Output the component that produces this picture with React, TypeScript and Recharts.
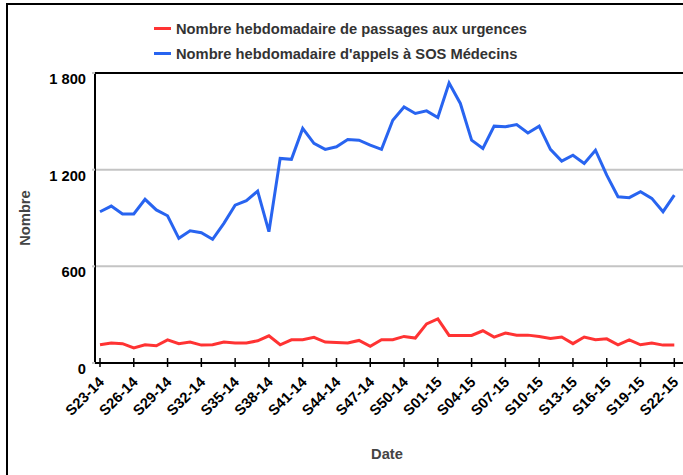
import { LineChart, Line, XAxis, YAxis, CartesianGrid, ReferenceLine } from 'recharts';

const weeks = [
  'S23-14', 'S24-14', 'S25-14', 'S26-14', 'S27-14', 'S28-14', 'S29-14', 'S30-14', 'S31-14', 'S32-14',
  'S33-14', 'S34-14', 'S35-14', 'S36-14', 'S37-14', 'S38-14', 'S39-14', 'S40-14', 'S41-14', 'S42-14',
  'S43-14', 'S44-14', 'S45-14', 'S46-14', 'S47-14', 'S48-14', 'S49-14', 'S50-14', 'S51-14', 'S52-14',
  'S01-15', 'S02-15', 'S03-15', 'S04-15', 'S05-15', 'S06-15', 'S07-15', 'S08-15', 'S09-15', 'S10-15',
  'S11-15', 'S12-15', 'S13-15', 'S14-15', 'S15-15', 'S16-15', 'S17-15', 'S18-15', 'S19-15', 'S20-15',
  'S21-15', 'S22-15',
];

const urgences = [
  113, 124, 120, 93, 113, 107, 144, 120, 130, 111,
  113, 130, 124, 124, 138, 169, 113, 144, 144, 159,
  130, 128, 124, 140, 103, 144, 144, 165, 155, 243,
  274, 171, 171, 171, 200, 161, 186, 173, 173, 165,
  152, 161, 120, 161, 144, 150, 113, 144, 113, 124,
  111, 111,
];

const sosMedecins = [
  939, 974, 925, 925, 1016, 950, 914, 774, 821, 809,
  768, 867, 980, 1007, 1067, 815, 1270, 1264, 1456, 1363,
  1326, 1342, 1387, 1383, 1352, 1326, 1507, 1589, 1549, 1565,
  1524, 1738, 1611, 1383, 1332, 1470, 1466, 1480, 1428, 1470,
  1326, 1253, 1290, 1239, 1321, 1166, 1032, 1026, 1063, 1022,
  939, 1042,
];

const yTicks = [0, 600, 1200, 1800];

const seriesNames = [
  'Nombre hebdomadaire de passages aux urgences',
  "Nombre hebdomadaire d'appels à SOS Médecins",
];
const RED = '#ff3333';
const BLUE = '#2864f0';

const data = weeks.map((week, i) => ({ week, urgences: urgences[i], sos: sosMedecins[i] }));

const FONT = '"Liberation Sans", Arial, sans-serif';
const fmt = (v: number) => (v >= 1000 ? `${Math.floor(v / 1000)} ${String(v % 1000).padStart(3, '0')}` : String(v));

function YTick({ x, y, payload }: any) {
  return (
    <text x={x} y={y} dy={11} textAnchor="end" fontFamily={FONT} fontSize={14.7} fontWeight="bold" fill="#000">
      {fmt(payload.value)}
    </text>
  );
}

function XTick({ x, y, payload }: any) {
  const ax = x + 5;
  const ay = y + 20;
  return (
    <g>
      <line x1={x} x2={x} y1={y - 5} y2={y + 4} stroke="#000" strokeWidth={1.5} />
      <text x={ax} y={ay} transform={`rotate(-45, ${ax}, ${ay})`} textAnchor="end" fontFamily={FONT} fontSize={14.7} fontWeight="bold" fill="#000">
        {payload.value}
      </text>
    </g>
  );
}

export default function App() {
  return (
    <div style={{ position: 'absolute', left: 0, top: 0, width: 683, height: 475, overflow: 'hidden', background: '#fff' }}>
      <div style={{ position: 'absolute', left: 6, top: 3, width: 720, height: 520, border: '2px solid #000' }} />
      <div style={{ position: 'absolute', left: 154, top: 16, fontFamily: FONT, fontSize: 14.7, fontWeight: 'bold', color: '#333' }}>
        {seriesNames.map((name, i) => (
          <div key={name} style={{ display: 'flex', alignItems: 'center', height: 25 }}>
            <span style={{ display: 'inline-block', width: 17, height: 3, background: i === 0 ? RED : BLUE, marginRight: 5 }} />
            {name}
          </div>
        ))}
      </div>
      <div style={{ position: 'absolute', left: 0, top: 0 }}>
        <LineChart width={700} height={475} data={data} margin={{ top: 73, right: 15, left: 10, bottom: 12 }}>
          <CartesianGrid vertical={false} stroke="#c4c4c4" strokeWidth={2} />
          <ReferenceLine y={1800} stroke="#000" strokeWidth={2} />
          <XAxis
            dataKey="week"
            interval={2}
            height={100}
            padding={{ left: 5, right: 10.7 }}
            tickSize={0}
            tickMargin={0}
            tickLine={false}
            axisLine={{ stroke: '#000', strokeWidth: 2 }}
            tick={<XTick />}
            label={{ value: 'Date', position: 'insideBottom', offset: 4, dx: -3, fill: '#444', fontFamily: FONT, fontSize: 14.7, fontWeight: 'bold' }}
          />
          <YAxis
            domain={[0, 1800]}
            ticks={yTicks}
            width={85}
            tickSize={3}
            tickMargin={6}
            tickLine={{ stroke: '#c4c4c4', strokeWidth: 2 }}
            axisLine={{ stroke: '#000', strokeWidth: 2 }}
            tick={<YTick />}
            label={{ value: 'Nombre', angle: -90, position: 'insideLeft', offset: 15, fill: '#444', fontFamily: FONT, fontSize: 14.7, fontWeight: 'bold', style: { textAnchor: 'middle' } }}
          />
          <Line type="linear" dataKey="urgences" stroke={RED} strokeWidth={3} dot={false} isAnimationActive={false} />
          <Line type="linear" dataKey="sos" stroke={BLUE} strokeWidth={3} dot={false} isAnimationActive={false} />
        </LineChart>
      </div>
    </div>
  );
}
